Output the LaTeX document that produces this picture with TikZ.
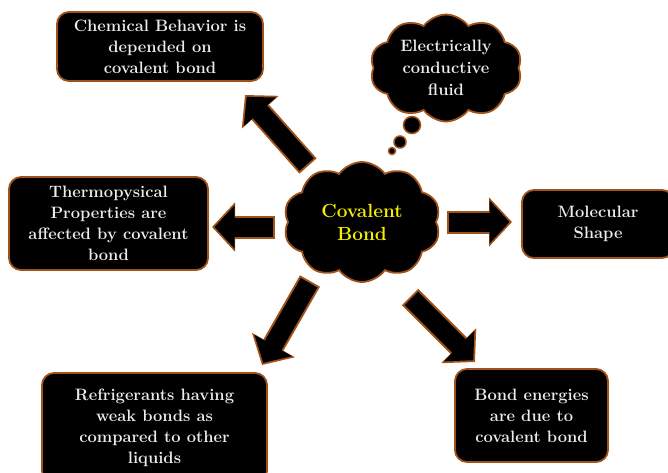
\documentclass[tikz,border=0pt]{standalone}
\usepackage{tikz}
\usepackage{xcolor}
\usetikzlibrary{shapes.symbols,arrows.meta}
\definecolor{rim}{RGB}{160,82,25}
\definecolor{paper}{RGB}{236,236,236}
\definecolor{bondyellow}{RGB}{245,240,0}

\begin{document}
\begin{tikzpicture}[x=1pt,y=-1pt]
\tikzset{box/.style={draw=rim,line width=1.8pt,fill=black,rounded corners=12pt,text=paper,font=\fontsize{16.5}{21}\selectfont\bfseries,align=center,inner sep=0pt}}
\tikzset{puff/.style={cloud,cloud puffs=10,cloud puff arc=110,cloud ignores aspect,draw=rim,line width=1.8pt,fill=black,inner sep=0pt,align=center}}
\tikzset{bubble/.style={circle,draw=rim,line width=1.5pt,fill=black,inner sep=0pt}}
\tikzset{fat/.style={line width=19pt,shorten >=2.5pt,shorten <=2pt,-{Triangle[length=20pt,width=42pt]},
  preaction={draw=rim,line width=23pt,shorten >=0pt,shorten <=0pt,-{Triangle[length=23pt,width=48pt]}}}}

\useasboundingbox[fill=white] (0,0) rectangle (668,472);

\node[box,minimum width=206pt,minimum height=69pt] (chem) at (160,46.5) {Chemical Behavior is\\depended on\\covalent bond};
\node[box,minimum width=199pt,minimum height=93pt] (thermo) at (108.5,223.5) {Thermopysical\\Properties are\\affected by covalent\\bond};
\node[box,minimum width=152pt,minimum height=68pt] (shape) at (598,224) {Molecular\\Shape};
\node[box,minimum width=225pt,minimum height=110pt] (refrig) at (154.5,428) {Refrigerants having\\weak bonds as\\compared to other\\liquids};
\node[box,minimum width=153pt,minimum height=93pt] (energy) at (531.5,415.5) {Bond energies\\are due to\\covalent bond};

\coordinate (chem-t) at (308,166);
\coordinate (chem-h) at (245,95);
\coordinate (thermo-t) at (275,227);
\coordinate (thermo-h) at (212,227);
\coordinate (shape-t) at (447,222);
\coordinate (shape-h) at (512,222);
\coordinate (refrig-t) at (310,281);
\coordinate (refrig-h) at (262,365);
\coordinate (energy-t) at (410,297);
\coordinate (energy-h) at (475,362);

\draw[fat] (chem-t) -- (chem-h);
\draw[fat] (thermo-t) -- (thermo-h);
\draw[fat] (shape-t) -- (shape-h);
\draw[fat] (refrig-t) -- (refrig-h);
\draw[fat] (energy-t) -- (energy-h);

\node[puff,minimum width=157pt,minimum height=120pt,text=bondyellow,font=\fontsize{19}{23}\selectfont\bfseries] (hub) at (362,222) {Covalent\\Bond};
\node[puff,minimum width=152pt,minimum height=107pt,text=paper,font=\fontsize{16.5}{22}\selectfont\bfseries] (fluid) at (446,68) {Electrically\\conductive\\fluid};

\node[bubble,minimum size=17pt] (b1) at (412,125) {};
\node[bubble,minimum size=12pt] (b2) at (400,142) {};
\node[bubble,minimum size=7pt] (b3) at (392,151) {};
\end{tikzpicture}
\end{document}
